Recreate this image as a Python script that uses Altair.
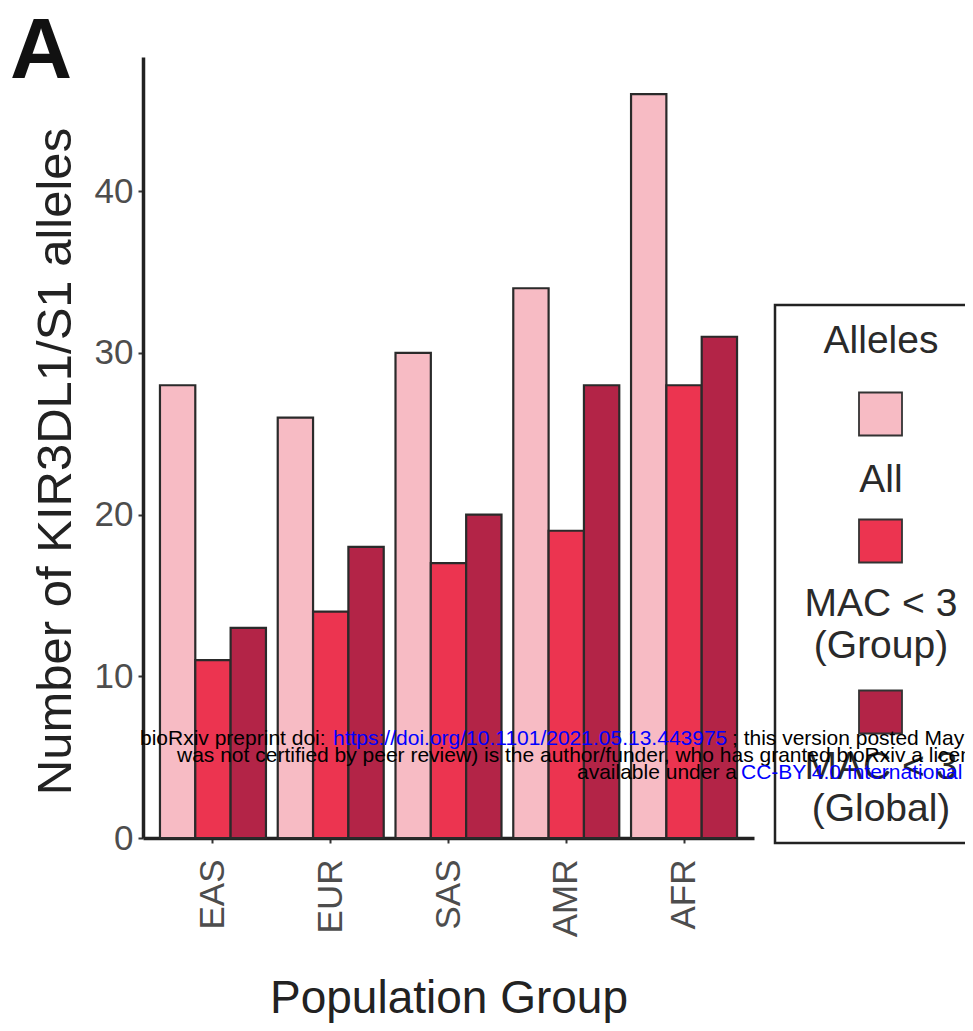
import altair as alt
import pandas as pd

# ---- data ----
groups = ["EAS", "EUR", "SAS", "AMR", "AFR"]
series = ["All", "MAC < 3 (Group)", "MAC < 3 (Global)"]
all_vals = [28, 26, 30, 34, 46]
group_vals = [11, 14, 17, 19, 28]
global_vals = [13, 18, 20, 28, 31]
colors = ["#F7BBC4", "#EC3450", "#B32447"]
y_ticks = [0, 10, 20, 30, 40]

rows = []
for i, g in enumerate(groups):
    for s, vals in zip(series, [all_vals, group_vals, global_vals]):
        rows.append({"group": g, "series": s, "value": vals[i]})
df = pd.DataFrame(rows)

FONT = "Liberation Sans"
W, H = 611, 781

bars = alt.Chart(df).mark_bar(stroke="#2a2a2a", strokeWidth=2.2).encode(
    x=alt.X("group:N", sort=groups,
            scale=alt.Scale(paddingInner=0.1, paddingOuter=0.144),
            axis=alt.Axis(title="Population Group", labelAngle=270, labelAlign="right",
                          labelBaseline="middle", labelFontSize=35, labelColor="#4D4D4D",
                          labelPadding=16, tickSize=5, tickColor="#333", tickWidth=2,
                          domainColor="#222", domainWidth=3.5, titleFontSize=46,
                          titleFontWeight="normal", titleColor="#222", titlePadding=40,
                          labelFont=FONT, titleFont=FONT)),
    xOffset=alt.XOffset("series:N", sort=series,
                        scale=alt.Scale(paddingInner=0, paddingOuter=0)),
    y=alt.Y("value:Q", scale=alt.Scale(domain=[0, 48.3], nice=False, zero=True),
            axis=alt.Axis(title="Number of KIR3DL1/S1 alleles", values=y_ticks,
                          grid=False, labelFontSize=35, labelColor="#4D4D4D",
                          labelPadding=5, tickSize=5, tickColor="#333", tickWidth=2,
                          domainColor="#222", domainWidth=3.5, titleFontSize=49,
                          titleFontWeight="normal", titleColor="#222", titlePadding=14,
                          titleY=404, labelFont=FONT, titleFont=FONT)),
    color=alt.Color("series:N", sort=series,
                    scale=alt.Scale(domain=series, range=colors), legend=None),
)

# ---- manual legend (ggplot style: labels under keys) ----
box = alt.Chart(pd.DataFrame({"k": [0]})).mark_rect(
    fill="white", stroke="#222", strokeWidth=2.5).encode(
    x=alt.value(632), x2=alt.value(860), y=alt.value(248), y2=alt.value(786))

leg_centers = [357, 484, 655]
legend_layers = [box]
for s, c, cy in zip(series, colors, leg_centers):
    legend_layers.append(
        alt.Chart(pd.DataFrame({"series": [s]})).mark_rect(
            fill=c, stroke="#333", strokeWidth=1.8).encode(
            x=alt.value(716), x2=alt.value(759), y=alt.value(cy - 21.5), y2=alt.value(cy + 21.5))
    )

leg_text = pd.DataFrame({
    "t": ["Alleles", "All", "MAC < 3", "(Group)", "MAC < 3", "(Global)"],
    "yy": [284, 423, 547, 589, 710, 752],
})
legend_layers.append(
    alt.Chart(leg_text).mark_text(font=FONT, fontSize=39, color="#2a2a2a",
                                  align="center", baseline="middle").encode(
        x=alt.value(738), y=alt.Y("yy:Q", scale=None), text="t:N")
)

# ---- bioRxiv overlay ----
overlay = pd.DataFrame({
    "t": ["bioRxiv preprint doi: ", "https://doi.org/10.1101/2021.05.13.443975",
          "; this version posted May 14, 2021. The copyright holder for this preprint (which",
          "was not certified by peer review) is the author/funder, who has granted bioRxiv a license to display the preprint in perpetuity. It is made",
          "available under a", "CC-BY 4.0 International license"],
    "xx": [-3, 190, 589, 34, 434, 598],
    "yy": [682, 682, 682, 699, 716, 716],
    "c": ["#000000", "#0000FF", "#000000", "#000000", "#000000", "#0000FF"],
})
over = alt.Chart(overlay).mark_text(font=FONT, fontSize=21, align="left",
                                    baseline="middle").encode(
    x=alt.X("xx:Q", scale=None), y=alt.Y("yy:Q", scale=None), text="t:N",
    color=alt.Color("c:N", scale=None))

letter = alt.Chart(pd.DataFrame({"t": ["A"]})).mark_text(
    font=FONT, fontSize=86, fontWeight="bold", color="#111", align="left",
    baseline="alphabetic").encode(x=alt.value(-133), y=alt.value(21), text="t:N")

chart = alt.layer(bars, *legend_layers, over, letter).properties(
    width=W, height=H,
    background="white",
    autosize=alt.AutoSizeParams(type="none"),
    padding={"left": 135, "top": 49, "right": 211, "bottom": 190},
).configure_view(stroke="transparent", strokeWidth=0)

chart.save("out.html", embed_options={"renderer": "svg", "actions": False})
